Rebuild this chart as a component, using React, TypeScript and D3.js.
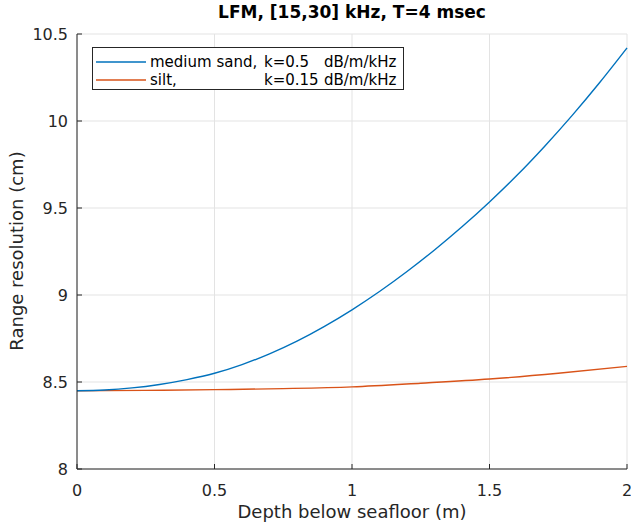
import React from "react";
import * as d3 from "d3";

const xTicks = [0, 0.5, 1, 1.5, 2];
const xTickLabels = ["0", "0.5", "1", "1.5", "2"];
const yTicks = [8, 8.5, 9, 9.5, 10, 10.5];
const yTickLabels = ["8", "8.5", "9", "9.5", "10", "10.5"];

const sandDepth = [0, 0.1, 0.2, 0.3, 0.4, 0.5, 0.6, 0.7, 0.8, 0.9, 1.0, 1.1, 1.2, 1.3, 1.4, 1.5, 1.6, 1.7, 1.8, 1.9, 2.0];
const sandRes = [8.45, 8.454, 8.466, 8.486, 8.514, 8.55, 8.6, 8.662, 8.735, 8.82, 8.915, 9.02, 9.135, 9.259, 9.392, 9.535, 9.688, 9.854, 10.031, 10.22, 10.42];

const siltDepth = [0, 0.25, 0.5, 0.75, 1.0, 1.25, 1.5, 1.75, 2.0];
const siltRes = [8.45, 8.452, 8.456, 8.462, 8.472, 8.493, 8.517, 8.55, 8.59];

const FONT = "'DejaVu Sans', sans-serif";
const AX = "#262626";
const GRID = "#e3e3e3";
const BLUE = "#0072BD";
const ORANGE = "#D95319";

export default function App() {
  const left = 77, right = 627, top = 34, bottom = 469;
  const x = d3.scaleLinear().domain([0, 2]).range([left, right]);
  const y = d3.scaleLinear().domain([8, 10.5]).range([bottom, top]);
  const line = d3.line<[number, number]>().x(d => x(d[0])).y(d => y(d[1])).curve(d3.curveMonotoneX);
  const sand = line(sandDepth.map((d, i) => [d, sandRes[i]] as [number, number])) || "";
  const silt = line(siltDepth.map((d, i) => [d, siltRes[i]] as [number, number])) || "";

  return (
    <svg width={631} height={523} style={{ position: "absolute", left: 0, top: 0, background: "#fff" }} fontFamily={FONT}>
      <rect x={0} y={0} width={631} height={523} fill="#fff" />
      {xTicks.map((t, i) => (
        <line key={"gx" + i} x1={x(t)} x2={x(t)} y1={top} y2={bottom} stroke={GRID} strokeWidth={1} />
      ))}
      {yTicks.map((t, i) => (
        <line key={"gy" + i} x1={left} x2={right} y1={y(t)} y2={y(t)} stroke={GRID} strokeWidth={1} />
      ))}
      <path d={silt} fill="none" stroke={ORANGE} strokeWidth={1.4} />
      <path d={sand} fill="none" stroke={BLUE} strokeWidth={1.4} />
      <line x1={left} x2={right} y1={bottom} y2={bottom} stroke={AX} strokeWidth={1} />
      <line x1={left} x2={left} y1={top} y2={bottom} stroke={AX} strokeWidth={1} />
      {xTicks.map((t, i) => (
        <g key={"xt" + i}>
          <line x1={x(t)} x2={x(t)} y1={bottom} y2={bottom - 5} stroke={AX} />
          <text x={x(t)} y={bottom + 27} textAnchor="middle" fontSize={16} fill={AX}>{xTickLabels[i]}</text>
        </g>
      ))}
      {yTicks.map((t, i) => (
        <g key={"yt" + i}>
          <line x1={left} x2={left + 5} y1={y(t)} y2={y(t)} stroke={AX} />
          <text x={left - 9} y={y(t) + 6} textAnchor="end" fontSize={16} fill={AX}>{yTickLabels[i]}</text>
        </g>
      ))}
      <text x={352} y={518} textAnchor="middle" fontSize={18} fill={AX}>Depth below seafloor (m)</text>
      <text transform={`translate(23,251) rotate(-90)`} textAnchor="middle" fontSize={18} fill={AX}>Range resolution (cm)</text>
      <text x={352} y={18} textAnchor="middle" fontSize={17} fontWeight="bold" fill="#000">LFM, [15,30] kHz, T=4 msec</text>
      <rect x={92.5} y={47.5} width={311} height={42} fill="#fff" stroke={AX} strokeWidth={1} />
      <line x1={96} x2={146} y1={62} y2={62} stroke={BLUE} strokeWidth={1.4} />
      <line x1={96} x2={146} y1={80} y2={80} stroke={ORANGE} strokeWidth={1.4} />
      <text x={150} y={67} fontSize={15} fill="#000">medium sand,</text>
      <text x={264} y={67} fontSize={15} fill="#000">k=0.5</text>
      <text x={324} y={67} fontSize={15} fill="#000">dB/m/kHz</text>
      <text x={150} y={85} fontSize={15} fill="#000">silt,</text>
      <text x={264} y={85} fontSize={15} fill="#000">k=0.15</text>
      <text x={324} y={85} fontSize={15} fill="#000">dB/m/kHz</text>
    </svg>
  );
}
